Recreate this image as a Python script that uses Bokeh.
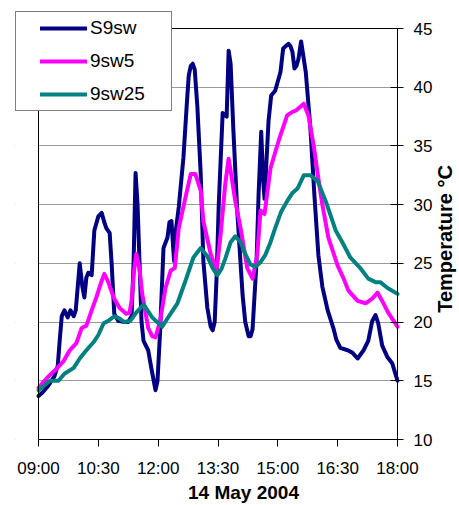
import math
from bokeh.plotting import figure
from bokeh.models import (Legend, LegendItem, FixedTicker, Range1d,
                          BoxAnnotation, Label, LinearAxis)
from bokeh.embed import file_html
from bokeh.resources import INLINE

# ---- data ----
s9sw_time = ["09:00","09:06","09:15","09:24","09:29","09:32","09:35","09:39","09:44","09:48",
             "09:53","09:56","09:59","10:02","10:06","10:09","10:12","10:15","10:20","10:24",
             "10:30","10:35","10:39","10:42","10:47","10:50","10:54","11:00","11:09","11:15",
             "11:20","11:23","11:26","11:29","11:32","11:35","11:38","11:45","11:50","11:56",
             "11:59","12:03","12:08","12:14","12:17","12:20","12:23","12:24","12:27","12:31",
             "12:38","12:43","12:46","12:49","12:52","12:55","12:59","13:04","13:08","13:14",
             "13:19","13:22","13:25","13:28","13:31","13:37","13:43","13:46","13:49","13:53",
             "13:59","14:07","14:11","14:16","14:19","14:22","14:28","14:31","14:35","14:38",
             "14:40","14:46","14:50","14:56","15:04","15:08","15:16","15:19","15:22","15:25",
             "15:28","15:31","15:35","15:42","15:49","15:55","16:01","16:07","16:15","16:24",
             "16:28","16:34","16:45","16:52","17:00","17:09","17:16","17:22","17:27","17:31",
             "17:37","17:45","17:52","18:00"]
s9sw_temp = [13.7,14.0,14.6,15.4,16.3,18.5,20.5,21.0,20.4,21.0,
             20.5,21.0,23.0,25.0,23.0,22.1,23.8,24.2,24.0,27.8,
             29.0,29.3,28.5,28.0,27.6,25.0,20.7,20.1,20.0,20.0,
             20.5,25.0,32.7,30.0,25.0,20.0,18.4,17.6,16.0,14.2,
             15.0,19.3,26.3,27.2,28.5,28.6,26.0,25.2,28.0,29.8,
             34.0,38.5,41.0,41.8,42.0,41.5,38.3,32.6,25.2,21.2,
             19.6,19.3,20.0,24.0,29.8,37.8,37.5,43.1,42.0,36.5,
             29.4,22.3,20.0,18.8,18.8,19.4,25.2,30.8,36.2,32.0,
             30.5,37.1,39.3,39.7,41.3,43.3,43.7,43.5,43.0,41.6,
             41.8,42.4,43.9,41.3,36.5,30.8,25.7,23.0,21.0,19.4,
             18.5,17.8,17.6,17.4,16.9,17.6,18.4,20.1,20.6,19.9,
             18.0,17.0,16.5,15.0]

sw5_time = ["09:00","09:12","09:21","09:27","09:38","09:47","09:57","10:05","10:12","10:20",
            "10:27","10:35","10:39","10:45","10:53","11:02","11:12","11:17","11:20","11:24",
            "11:27","11:32","11:36","11:45","11:51","11:56","12:03","12:11","12:19","12:25",
            "12:31","12:41","12:49","12:56","13:04","13:08","13:19","13:28","13:34","13:41",
            "13:46","13:50","13:56","14:04","14:14","14:22","14:29","14:34","14:40","14:49",
            "15:01","15:14","15:22","15:27","15:39","15:46","15:54","16:01","16:07","16:16",
            "16:30","16:39","16:46","17:00","17:12","17:22","17:30","17:37","17:46","18:00"]
sw5_temp = [14.4,15.2,15.7,16.0,16.7,17.6,18.2,19.5,19.7,21.0,
            22.1,23.5,24.1,23.4,22.1,21.2,20.7,20.8,21.8,24.5,
            25.8,24.5,22.4,19.5,18.8,18.7,20.1,22.9,24.4,24.6,
            28.0,30.6,32.6,32.6,31.2,28.6,25.8,24.4,27.5,31.8,
            33.9,32.5,30.3,28.0,24.6,23.7,25.7,29.5,29.2,33.1,
            35.4,37.6,37.9,38.0,38.6,37.6,35.0,32.2,30.0,27.2,
            24.8,23.7,22.7,21.8,21.6,22.0,22.5,21.8,20.8,19.6]

sw25_time = ["09:00","09:17","09:30","09:39","09:53","10:02","10:12","10:23","10:30","10:38",
             "10:45","10:54","11:02","11:09","11:18","11:27","11:38","11:51","12:06","12:15",
             "12:29","12:41","12:53","13:04","13:14","13:22","13:29","13:35","13:41","13:49",
             "13:56","14:04","14:11","14:19","14:26","14:34","14:41","14:49","14:56","15:05",
             "15:14","15:22","15:30","15:39","15:49","16:00","16:12","16:27","16:37","16:49",
             "17:04","17:16","17:27","17:34","17:45","18:00"]
sw25_temp = [14.2,15.0,15.0,15.6,16.1,16.9,17.6,18.3,18.9,19.9,
             20.1,20.5,20.3,20.0,20.1,20.8,21.5,20.4,19.6,20.4,
             21.6,23.5,25.5,26.3,25.6,24.6,24.0,24.5,25.4,26.8,
             27.3,26.8,25.8,24.9,24.7,25.1,25.7,26.8,28.0,29.4,
             30.3,31.0,31.4,32.5,32.5,32.0,30.3,27.8,26.8,25.5,
             24.6,23.7,23.4,23.4,22.9,22.4]

series_names = ["S9sw", "9sw5", "9sw25"]
x_ticks = [9, 10.5, 12, 13.5, 15, 16.5, 18]
x_tick_labels = ["09:00", "10:30", "12:00", "13:30", "15:00", "16:30", "18:00"]
y_ticks = [10, 15, 20, 25, 30, 35, 40, 45]
x_title = "14 May 2004"
y_title = "Temperature °C"


def hours(ts):
    return [int(t[:2]) + int(t[3:]) / 60.0 for t in ts]


FONT = "Liberation Sans"

# layout: the plotting box is 359 x 411 px; the frame is extended on all
# sides so that legend, axis labels and titles lie inside it (no clipping)
BOX_W, BOX_H = 359, 411
EXT_L, EXT_T, EXT_R, EXT_B = 23, 18, 61, 65
x0, x1 = x_ticks[0], x_ticks[-1]
y0, y1 = y_ticks[0], y_ticks[-1]
XPP = (x1 - x0) / BOX_W          # data units per pixel
YPP = (y1 - y0) / BOX_H

p = figure(frame_width=BOX_W + EXT_L + EXT_R, frame_height=BOX_H + EXT_T + EXT_B,
           x_range=Range1d(x0 - EXT_L * XPP, x1 + EXT_R * XPP),
           y_range=Range1d(y0 - EXT_B * YPP, y1 + EXT_T * YPP),
           x_axis_location=None, y_axis_location=None,
           output_backend="svg", toolbar_location=None,
           min_border_left=15, min_border_top=10,
           min_border_right=0, min_border_bottom=0)
p.title.visible = False
p.background_fill_color = "white"
p.border_fill_color = "white"
p.outline_line_color = None

colors = ["#000080", "#FF00FF", "#008080"]
data = [(s9sw_time, s9sw_temp), (sw5_time, sw5_temp), (sw25_time, sw25_temp)]
renderers = []
for (ts, vs), c in zip(data, colors):
    r = p.line(hours(ts), vs, line_color=c, line_width=4,
               line_join="round", line_cap="round")
    renderers.append(r)

x_ticker = FixedTicker(ticks=x_ticks, minor_ticks=[])
y_ticker = FixedTicker(ticks=y_ticks, minor_ticks=[])

# grid
p.xgrid.visible = False
p.ygrid.ticker = y_ticker
p.ygrid.grid_line_color = "#999999"
p.ygrid.grid_line_width = 1

# white masks outside the plotting box (hide grid line ends)
p.add_layout(BoxAnnotation(right=x0, fill_color="white", fill_alpha=1.0,
                           line_color=None, level="underlay"))
p.add_layout(BoxAnnotation(left=x1, fill_color="white", fill_alpha=1.0,
                           line_color=None, level="underlay"))

# box edges (top and left) as bare axes
top_edge = LinearAxis(fixed_location=y1, bounds=(x0, x1),
                      ticker=FixedTicker(ticks=[]), axis_line_color="black",
                      major_tick_line_color=None, minor_tick_line_color=None)
p.add_layout(top_edge, "above")
left_edge = LinearAxis(fixed_location=x0, bounds=(y0, y1),
                       ticker=FixedTicker(ticks=[]), axis_line_color="black",
                       major_tick_line_color=None, minor_tick_line_color=None)
p.add_layout(left_edge, "left")

# x axis at the bottom of the plotting box
xa = LinearAxis(fixed_location=y0, bounds=(x0, x1), ticker=x_ticker)
xa.major_label_overrides = {t: l for t, l in zip(x_ticks, x_tick_labels)}
xa.major_tick_in = 0
xa.major_tick_out = 7
xa.minor_tick_line_color = None
xa.major_label_standoff = 12
xa.major_label_text_font = FONT
xa.major_label_text_font_size = "17px"
xa.major_label_text_color = "black"
xa.axis_line_color = "black"
xa.major_tick_line_color = "black"
p.add_layout(xa, "below")

# y axis at the right edge of the plotting box
ya = LinearAxis(fixed_location=x1, bounds=(y0, y1), ticker=y_ticker)
ya.major_tick_in = 7
ya.major_tick_out = 6
ya.minor_tick_line_color = None
ya.major_label_standoff = 10
ya.major_label_text_font = FONT
ya.major_label_text_font_size = "17px"
ya.major_label_text_color = "black"
ya.axis_line_color = "black"
ya.major_tick_line_color = "black"
p.add_layout(ya, "right")

# axis titles
p.add_layout(Label(x=x0 + 205 * XPP, y=y0 - 53.4 * YPP, text=x_title,
                   text_align="center", text_baseline="middle",
                   text_font=FONT, text_font_style="bold",
                   text_font_size="19px", text_color="black"))
p.add_layout(Label(x=x1 + 47 * XPP, y=y1 - 210.5 * YPP, text=y_title,
                   angle=math.pi / 2, angle_units="rad",
                   text_align="center", text_baseline="middle",
                   text_font=FONT, text_font_style="bold",
                   text_font_size="20px", text_color="black"))

legend = Legend(items=[LegendItem(label=n, renderers=[r]) for n, r in zip(series_names, renderers)],
                location=(0, 328 + EXT_B),
                padding=5, spacing=11, margin=0,
                glyph_width=47, glyph_height=22, label_height=22,
                label_width=76, label_standoff=3,
                title=" ", title_location="left", title_standoff=18,
                title_text_font_size="1px",
                label_text_font=FONT, label_text_font_size="19px",
                label_text_color="black",
                border_line_color="black", border_line_width=1,
                background_fill_color="white", background_fill_alpha=1.0)
p.add_layout(legend)

open("out.html", "w").write(file_html(p, INLINE))
